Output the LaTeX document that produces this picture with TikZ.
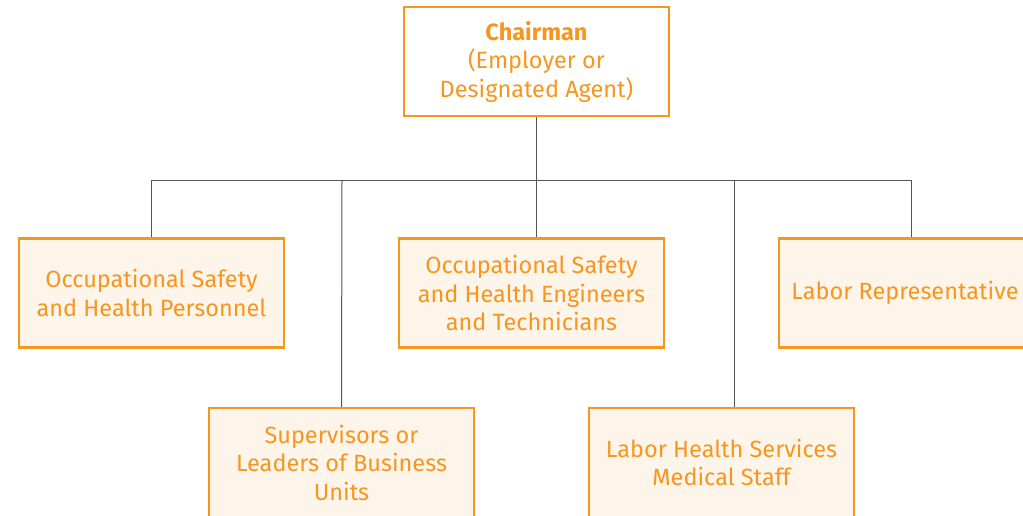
\documentclass[tikz,border=0pt]{standalone}
\usepackage{fontspec}
\setmainfont{Fira Sans}
\definecolor{orangeb}{HTML}{F7961F}
\definecolor{cream}{HTML}{FDF4EA}
\definecolor{linec}{HTML}{555555}
\begin{document}
\begin{tikzpicture}[x=1pt,y=-1pt,
  box/.style={draw=orangeb,line width=2.5pt,fill=cream,minimum width=265pt,minimum height=109pt,
    inner sep=0pt,align=center,text=orangeb,font=\fontsize{23.5}{28.5}\selectfont},
  topbox/.style={box,fill=white},
  conn/.style={draw=linec,line width=1pt}]
\useasboundingbox (0,0) rectangle (1023,516);
\clip (0,0) rectangle (1023,516);
\node[topbox] (chair) at (536.5,61.5) {{\bfseries Chairman}\\(Employer or\\Designated Agent)};
\node[box] (osh) at (151.5,293) {Occupational Safety\\and Health Personnel};
\node[box] (eng) at (531.5,293) {Occupational Safety\\and Health Engineers\\and Technicians};
\node[box] (lab) at (905,293) [minimum width=252pt] {Labor Representative};
\node[box] (sup) at (341.5,462.5) {Supervisors or\\Leaders of Business\\Units};
\node[box] (med) at (721.5,462.5) {Labor Health Services\\Medical Staff};
\coordinate (bus) at (536.5,181);
\coordinate (supc) at (342,181);
\coordinate (medc) at (734,181);
\coordinate (labc) at (911,181);
\path[conn] (chair.south) -- (bus) -- (bus |- eng.north);
\path[conn] (bus) -| (osh.north);
\path[conn] (bus) -- (labc) -- (labc |- lab.north);
\path[conn] (supc) -- (sup.north);
\path[conn] (medc) -- (medc |- med.north);
\end{tikzpicture}
\end{document}
